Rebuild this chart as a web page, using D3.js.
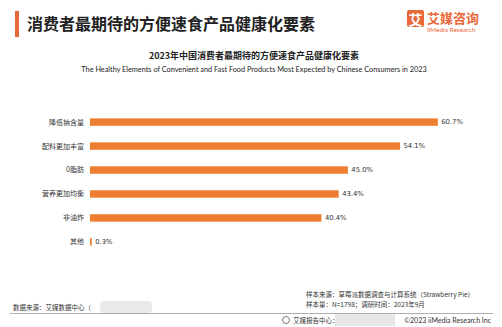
<!DOCTYPE html>
<html><head><meta charset="utf-8">
<script src="https://cdn.jsdelivr.net/npm/d3@7"></script>
<style>
body{margin:0;background:#fff;}
svg{display:block;font-family:"Noto Sans CJK SC","Noto Sans",sans-serif;}
</style></head>
<body>
<svg id="c" width="502" height="327"></svg>
<script>
const categories = ["降低钠含量","配料更加丰富","0脂肪","营养更加均衡","非油炸","其他"];
const values = [60.7, 54.1, 45.0, 43.4, 40.4, 0.3];
const valueLabels = ["60.7%","54.1%","45.0%","43.4%","40.4%","0.3%"];

const svg = d3.select("#c");
const orange = "#ED7D31";

// header
svg.append("rect").attr("x",15).attr("y",11).attr("width",4).attr("height",26).attr("fill","#E9683A");
svg.append("text").attr("x",27).attr("y",30).attr("font-size",16).attr("font-weight","bold").attr("fill","#222")
  .text("消费者最期待的方便速食产品健康化要素");

// logo
svg.append("rect").attr("x",407).attr("y",10).attr("width",17).attr("height",17).attr("rx",2).attr("fill","#E9683A");
svg.append("text").attr("x",415.5).attr("y",24.5).attr("text-anchor","middle").attr("font-size",14).attr("font-weight","bold").attr("fill","#fff").text("艾");
svg.append("text").attr("x",427).attr("y",23).attr("font-size",13).attr("font-weight","bold").attr("fill","#E9683A").text("艾媒咨询");
svg.append("text").attr("x",427).attr("y",32).attr("font-size",6.5).attr("fill","#E9683A").attr("font-family","Lato,sans-serif").text("iiMedia Research");

// subtitles
svg.append("text").attr("x",254).attr("y",59).attr("text-anchor","middle").attr("font-size",9).attr("font-weight","bold").attr("fill","#222")
  .text("2023年中国消费者最期待的方便速食产品健康化要素");
svg.append("text").attr("x",254).attr("y",72).attr("text-anchor","middle").attr("font-size",7.3).attr("fill","#222").attr("font-family","Lato,'Noto Sans',sans-serif")
  .text("The Healthy Elements of Convenient and Fast Food Products Most Expected by Chinese Consumers in 2023");

// chart
const x = d3.scaleLinear().domain([0,100]).range([90,663]);
const y = d3.scaleBand().domain(categories).range([110,254]).paddingInner(0.69).paddingOuter(0.35);

svg.append("g").selectAll("rect").data(categories).join("rect")
  .attr("x",x(0)).attr("y",d=>y(d)).attr("height",y.bandwidth())
  .attr("width",(d,i)=>Math.max(1.5,x(values[i])-x(0)))
  .attr("fill",orange);

svg.append("g").selectAll("text").data(categories).join("text")
  .attr("x",84).attr("y",d=>y(d)+y.bandwidth()/2).attr("dy","0.35em")
  .attr("text-anchor","end").attr("font-size",7).attr("fill","#333").text(d=>d);

svg.append("g").selectAll("text").data(categories).join("text")
  .attr("x",(d,i)=>Math.max(x(values[i]), x(0)+1.5)+3.5).attr("y",d=>y(d)+y.bandwidth()/2).attr("dy","0.35em")
  .attr("fill","#333").attr("font-family","'DejaVu Sans',sans-serif").attr("font-size",6.8)
  .text((d,i)=>valueLabels[i]);

// footer
const ft = svg.append("g").attr("fill","#333").attr("font-size",6.5);
ft.append("text").attr("x",306).attr("y",297).text("样本来源：草莓派数据调查与计算系统（Strawberry Pie）");
ft.append("text").attr("x",306).attr("y",307).text("样本量：N=1798；调研时间：2023年9月");
ft.append("text").attr("x",13).attr("y",310).text("数据来源：艾媒数据中心（");
svg.append("rect").attr("x",100).attr("y",301).attr("width",52).attr("height",12).attr("rx",4).attr("fill","#e4e4e4").attr("opacity",0.8);
svg.append("line").attr("x1",10).attr("x2",493).attr("y1",313.5).attr("y2",313.5).attr("stroke","#999").attr("stroke-width",0.8);
svg.append("circle").attr("cx",286).attr("cy",320).attr("r",3.5).attr("fill","none").attr("stroke","#555").attr("stroke-width",0.8);
ft.append("text").attr("x",293).attr("y",322.5).text("艾媒报告中心：");
svg.append("rect").attr("x",335).attr("y",314).attr("width",60).attr("height",12).attr("fill","#e6e6e6");
ft.append("text").attr("x",491).attr("y",322.5).attr("text-anchor","end").attr("font-family","Lato,sans-serif").attr("font-size",7).text("©2023  iiMedia Research  Inc");
</script>
</body></html>
